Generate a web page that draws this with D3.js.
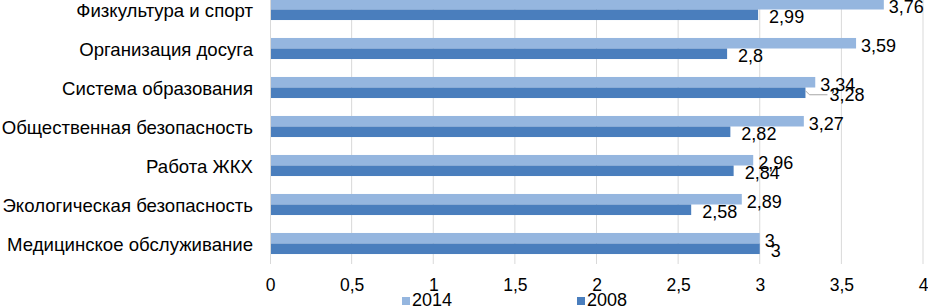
<!DOCTYPE html>
<html>
<head>
<meta charset="utf-8">
<script src="https://cdn.jsdelivr.net/npm/d3@7"></script>
<style>
  body { margin: 0; background: #fff; }
  svg { display: block; font-family: "Liberation Sans", Arial, sans-serif; }
</style>
</head>
<body>
<div id="chart"></div>
<script>
// Data
const categories = [
    'Физкультура и спорт',
    'Организация досуга',
    'Система образования',
    'Общественная безопасность',
    'Работа ЖКХ',
    'Экологическая безопасность',
    'Медицинское обслуживание'
];
const seriesNames = ['2014', '2008'];
const values2014 = [3.76, 3.59, 3.34, 3.27, 2.96, 2.89, 3];
const values2008 = [2.99, 2.8, 3.28, 2.82, 2.84, 2.58, 3];
const xTicks = [0, 0.5, 1, 1.5, 2, 2.5, 3, 3.5, 4];

const colors = {'2014': '#95b6df', '2008': '#4a7ebd'};
const width = 928, height = 307;

const svg = d3.select('#chart').append('svg')
    .attr('width', width)
    .attr('height', height);

const x = d3.scaleLinear().domain([0, 4]).range([270, 923]);
const y = d3.scaleBand().domain(categories).range([-10, 263])
    .paddingInner(0.46).paddingOuter(0.23);
const ySub = d3.scaleBand().domain(seriesNames).range([0, y.bandwidth()]);

const fmt = v => String(v).replace('.', ',');

// gridlines
svg.append('g')
    .selectAll('line')
    .data(xTicks.slice(1))
    .join('line')
    .attr('x1', d => x(d)).attr('x2', d => x(d))
    .attr('y1', 0).attr('y2', 264)
    .attr('stroke', '#d9d9d9')
    .attr('stroke-width', 1);

// x axis labels (no domain line)
const xAxis = d3.axisBottom(x)
    .tickValues(xTicks)
    .tickSize(0)
    .tickPadding(0)
    .tickFormat(fmt);
svg.append('g')
    .attr('transform', 'translate(0,279)')
    .call(xAxis)
    .call(g => g.select('.domain').remove())
    .call(g => g.selectAll('text')
        .attr('dy', '0.71em')
        .attr('font-size', 17.5)
        .attr('fill', '#000')
        .attr('font-family', null));

// category axis
const yAxis = d3.axisLeft(y).tickSize(0).tickPadding(17);
svg.append('g')
    .attr('transform', `translate(${x(0)},1.5)`)
    .call(yAxis)
    .call(g => g.select('.domain').remove())
    .call(g => g.selectAll('text')
        .attr('font-size', 18.6)
        .attr('fill', '#000')
        .attr('font-family', null));

// bars
const rows = categories.map((c, i) => ({
    cat: c,
    items: [
        {series: '2014', value: values2014[i]},
        {series: '2008', value: values2008[i]}
    ]
}));

const groups = svg.append('g')
    .selectAll('g')
    .data(rows)
    .join('g')
    .attr('transform', d => `translate(0,${y(d.cat)})`);

groups.selectAll('rect')
    .data(d => d.items)
    .join('rect')
    .attr('x', x(0))
    .attr('y', d => ySub(d.series))
    .attr('width', d => x(d.value) - x(0))
    .attr('height', ySub.bandwidth())
    .attr('fill', d => colors[d.series]);

// category axis line
svg.append('line')
    .attr('x1', x(0) + 0.5).attr('x2', x(0) + 0.5)
    .attr('y1', 0).attr('y2', 264)
    .attr('stroke', '#d9d9d9');

// value labels
groups.selectAll('text.val')
    .data(d => d.items.map(it => ({...it, cat: d.cat})))
    .join('text')
    .attr('class', 'val')
    .attr('x', d => {
        let off = d.series === '2014' ? 5 : 11;
        if (d.cat === 'Система образования' && d.series === '2008') off = 24;
        return x(d.value) + off;
    })
    .attr('y', d => ySub(d.series) + ySub.bandwidth() / 2 + (d.series === '2014' ? 2 : 1.5))
    .attr('dy', '0.36em')
    .attr('font-size', 18)
    .attr('fill', '#000')
    .text(d => fmt(d.value));

// leader line for the crowded label
const ci = categories.indexOf('Система образования');
const ly = y(categories[ci]) + ySub('2008') + ySub.bandwidth() / 2 + 2;
svg.append('path')
    .attr('d', `M${x(values2008[ci])},${ly - 4}L${x(values2008[ci]) + 4},${ly}L${x(values2008[ci]) + 22},${ly}`)
    .attr('fill', 'none')
    .attr('stroke', '#a6a6a6')
    .attr('stroke-width', 1);

// legend
const legend = svg.append('g');
const legendX = [402, 577];
seriesNames.forEach((s, i) => {
    legend.append('rect')
        .attr('x', legendX[i]).attr('y', 297)
        .attr('width', 8).attr('height', 8)
        .attr('fill', colors[s]);
    legend.append('text')
        .attr('x', legendX[i] + 10).attr('y', 306)
        .attr('font-size', 18)
        .attr('fill', '#000')
        .text(s);
});
</script>
</body>
</html>
